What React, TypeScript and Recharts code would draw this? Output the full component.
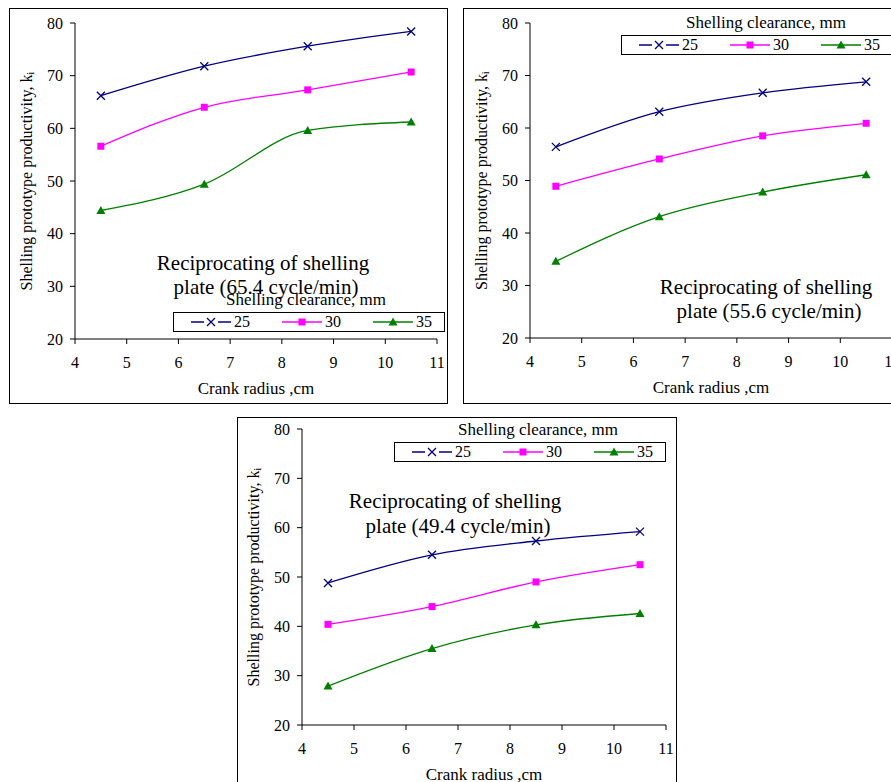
import React from 'react';
import { LineChart, Line, XAxis, YAxis, Legend } from 'recharts';

// ---- data ----
const crankRadius = [4.5, 6.5, 8.5, 10.5];
const clearanceNames = ['25', '30', '35'];
const xTicks = [4, 5, 6, 7, 8, 9, 10, 11];
const yTicks = [20, 30, 40, 50, 60, 70, 80];

// reciprocating 65.4 cycle/min
const p654_c25 = [66.2, 71.8, 75.6, 78.4];
const p654_c30 = [56.6, 64.0, 67.3, 70.7];
const p654_c35 = [44.4, 49.4, 59.6, 61.2];
// reciprocating 55.6 cycle/min
const p556_c25 = [56.4, 63.1, 66.7, 68.8];
const p556_c30 = [48.9, 54.1, 58.5, 60.9];
const p556_c35 = [34.6, 43.1, 47.8, 51.1];
// reciprocating 49.4 cycle/min
const p494_c25 = [48.8, 54.5, 57.3, 59.2];
const p494_c30 = [40.4, 44.0, 49.0, 52.5];
const p494_c35 = [27.9, 35.5, 40.3, 42.6];

const SERIF = '"Liberation Serif", "Times New Roman", serif';
const COLORS = ['#000080', '#FF00FF', '#008000'];

const buildData = (a: number[], b: number[], c: number[]) =>
  crankRadius.map((r, i) => ({ r, s25: a[i], s30: b[i], s35: c[i] }));

function Marker({ kind, cx, cy, color }: { kind: number; cx: number; cy: number; color: string }) {
  if (kind === 0) {
    const s = 4;
    return (
      <path
        d={`M${cx - s},${cy - s}L${cx + s},${cy + s}M${cx - s},${cy + s}L${cx + s},${cy - s}`}
        stroke={color}
        strokeWidth={1.3}
        fill="none"
      />
    );
  }
  if (kind === 1) {
    return <rect x={cx - 3.5} y={cy - 3.5} width={7} height={7} fill={color} />;
  }
  return <path d={`M${cx},${cy - 4.5}L${cx + 4.5},${cy + 3.5}L${cx - 4.5},${cy + 3.5}Z`} fill={color} />;
}

type PanelCfg = {
  left: number;
  top: number;
  w: number;
  h: number;
  plot: [number, number, number, number];
  data: any[];
  title: [string, string];
  ann: [[number, number], [number, number]];
  legend: { x: number; y: number; w: number; titleLeft: number };
};

const Y_AXIS_W = 50;
const X_AXIS_H = 30;

const yLabelContent = (props: any) => {
  const vb = props.viewBox || {};
  const x = vb.x + vb.width - 49;
  const y = vb.y + vb.height / 2;
  return (
    <text
      x={x}
      y={y}
      transform={`rotate(-90 ${x} ${y})`}
      textAnchor="middle"
      dominantBaseline="central"
      fontFamily={SERIF}
      fontSize={16}
      fill="#000"
    >
      Shelling prototype productivity, k
      <tspan fontSize={11} dy={4}>i</tspan>
    </text>
  );
};

const xLabelContent = (props: any) => {
  const vb = props.viewBox || {};
  const x = vb.x + vb.width / 2;
  const y = vb.y + 49;
  return (
    <text x={x} y={y} textAnchor="middle" dominantBaseline="central" fontFamily={SERIF} fontSize={17} fill="#000">
      Crank radius ,cm
    </text>
  );
};

function LegendBox({ w, titleLeft }: { w: number; titleLeft: number }) {
  return (
    <div style={{ position: 'relative', width: w, height: 40, fontFamily: SERIF, color: '#000' }}>
      <div
        style={{ position: 'absolute', left: titleLeft, top: -1, fontSize: 17, lineHeight: '17px', whiteSpace: 'nowrap' }}
      >
        Shelling clearance, mm
      </div>
      <div
        style={{
          position: 'absolute',
          left: 0,
          top: 20,
          width: w,
          height: 20,
          border: '1px solid #000',
          boxSizing: 'border-box',
          background: '#fff',
        }}
      >
        {clearanceNames.map((n, i) => (
          <div
            key={n}
            style={{ position: 'absolute', left: 17 + i * 91, top: 0, height: 18, display: 'flex', alignItems: 'center' }}
          >
            <svg width={40} height={18} style={{ display: 'block' }}>
              <line x1={0} y1={9} x2={40} y2={9} stroke={COLORS[i]} strokeWidth={1.3} />
              {i === 0 && <rect x={13} y={4} width={14} height={10} fill="#fff" />}
              <Marker kind={i} cx={20} cy={9} color={COLORS[i]} />
            </svg>
            <span style={{ fontSize: 16, marginLeft: 3, lineHeight: '18px' }}>{n}</span>
          </div>
        ))}
      </div>
    </div>
  );
}

function Panel({ cfg }: { cfg: PanelCfg }) {
  const innerW = cfg.w - 2;
  const innerH = cfg.h - 2;
  const ox = cfg.left + 1;
  const oy = cfg.top + 1;
  const [pl, pt, pr, pb] = cfg.plot;
  const margin = {
    left: pl - ox - Y_AXIS_W,
    top: pt - oy,
    right: ox + innerW - pr,
    bottom: oy + innerH - pb - X_AXIS_H,
  };
  const keys = ['s25', 's30', 's35'];
  const annFs = 21;
  return (
    <div
      style={{
        position: 'absolute',
        left: cfg.left,
        top: cfg.top,
        width: cfg.w,
        height: cfg.h,
        border: '1px solid #000',
        boxSizing: 'border-box',
        background: '#fff',
      }}
    >
      <LineChart width={innerW} height={innerH} data={cfg.data} margin={margin}>
        <XAxis
          dataKey="r"
          type="number"
          domain={[4, 11]}
          ticks={xTicks}
          interval={0}
          height={X_AXIS_H}
          tickSize={5}
          tickMargin={13}
          stroke="#000"
          tick={{ fill: '#000', fontSize: 16, fontFamily: SERIF }}
          label={xLabelContent}
          allowDataOverflow
        />
        <YAxis
          type="number"
          domain={[20, 80]}
          ticks={yTicks}
          interval={0}
          width={Y_AXIS_W}
          tickSize={5}
          tickMargin={7}
          stroke="#000"
          tick={{ fill: '#000', fontSize: 16, fontFamily: SERIF }}
          label={yLabelContent}
        />
        {keys.map((k, i) => (
          <Line
            key={k}
            dataKey={k}
            name={clearanceNames[i]}
            type="monotone"
            stroke={COLORS[i]}
            strokeWidth={1.3}
            isAnimationActive={false}
            dot={(p: any) => <Marker key={`${k}-${p.index}`} kind={i} cx={p.cx} cy={p.cy} color={COLORS[i]} />}
            activeDot={false}
          />
        ))}
        <Legend
          verticalAlign="middle"
          align="center"
          layout="horizontal"
          wrapperStyle={{
            left: cfg.legend.x - ox,
            top: cfg.legend.y - oy - 20,
            width: cfg.legend.w,
            height: 40,
          }}
          content={() => <LegendBox w={cfg.legend.w} titleLeft={cfg.legend.titleLeft} />}
        />
      </LineChart>
      {cfg.title.map((t, i) => (
        <div
          key={i}
          style={{
            position: 'absolute',
            left: cfg.ann[i][0] - ox - 160,
            top: cfg.ann[i][1] - oy - annFs * 0.8375,
            width: 320,
            textAlign: 'center',
            fontFamily: SERIF,
            fontSize: annFs,
            lineHeight: `${annFs}px`,
            whiteSpace: 'nowrap',
            color: '#000',
            pointerEvents: 'none',
          }}
        >
          {t}
        </div>
      ))}
    </div>
  );
}

const panels: PanelCfg[] = [
  {
    left: 9,
    top: 8,
    w: 439,
    h: 396,
    plot: [75, 23, 437, 339],
    data: buildData(p654_c25, p654_c30, p654_c35),
    title: ['Reciprocating of shelling', 'plate (65.4 cycle/min)'],
    ann: [
      [263, 271],
      [266, 295],
    ],
    legend: { x: 173, y: 312, w: 272, titleLeft: 53 },
  },
  {
    left: 463,
    top: 8,
    w: 439,
    h: 396,
    plot: [530, 23, 892, 338],
    data: buildData(p556_c25, p556_c30, p556_c35),
    title: ['Reciprocating of shelling', 'plate (55.6 cycle/min)'],
    ann: [
      [766, 295],
      [769, 319],
    ],
    legend: { x: 621, y: 35, w: 272, titleLeft: 65 },
  },
  {
    left: 237,
    top: 417,
    w: 440,
    h: 396,
    plot: [302, 429, 666, 725],
    data: buildData(p494_c25, p494_c30, p494_c35),
    title: ['Reciprocating of shelling', 'plate (49.4 cycle/min)'],
    ann: [
      [455, 509],
      [458, 534],
    ],
    legend: { x: 394, y: 442, w: 272, titleLeft: 64 },
  },
];

export default function App() {
  return (
    <div
      style={{
        position: 'absolute',
        left: 0,
        top: 0,
        width: 891,
        height: 782,
        overflow: 'hidden',
        background: '#fff',
      }}
    >
      {panels.map((p, i) => (
        <Panel key={i} cfg={p} />
      ))}
    </div>
  );
}
